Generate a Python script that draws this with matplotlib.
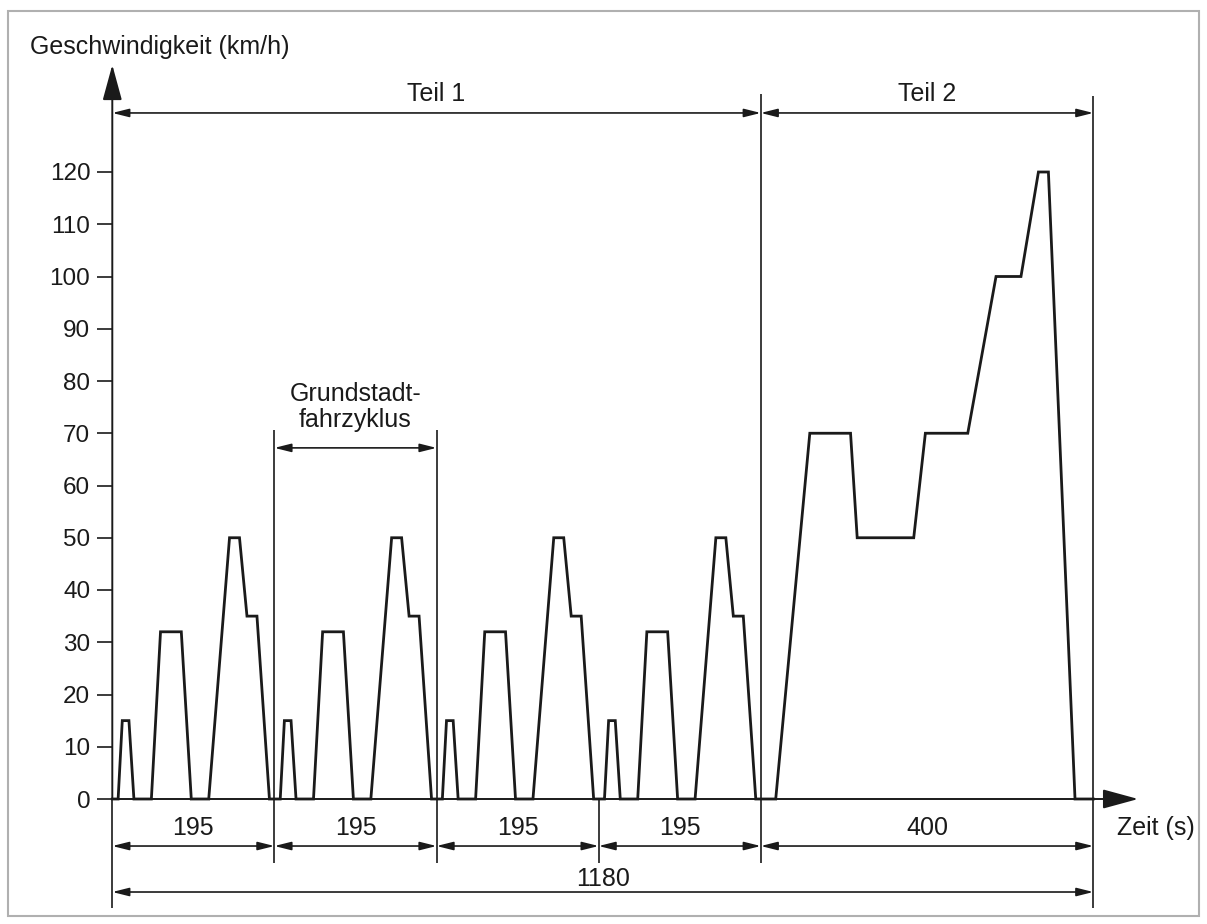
import numpy as np
import matplotlib.pyplot as plt
from matplotlib.patches import Rectangle

plt.rcParams['font.family'] = ['Liberation Sans', 'DejaVu Sans']

# Grundstadtfahrzyklus (195 s), Eckpunkte
zeit_ece = [0, 7, 12, 20, 26, 47, 58, 83, 95, 116, 141, 153, 162, 174, 189, 195]
v_ece = [0, 0, 15, 15, 0, 0, 32, 32, 0, 0, 50, 50, 35, 35, 0, 0]

# Teil 2 (400 s)
zeit_teil2 = [0, 18, 59, 108, 116, 184, 198, 249, 283, 313, 334, 346, 378, 400]
v_teil2 = [0, 0, 70, 70, 50, 50, 70, 70, 100, 100, 120, 120, 0, 0]

dauer_ece = 195
anzahl_ece = 4
dauer_teil2 = 400
dauer_gesamt = anzahl_ece * dauer_ece + dauer_teil2   # 1180

y_ticks = list(range(0, 121, 10))
abschnitt_texte = ['195', '195', '195', '195', '400']

FARBE = '#1a1a1a'
FS = 18


def zeitreihe():
    t, v = [], []
    for k in range(anzahl_ece):
        t += [z + k * dauer_ece for z in zeit_ece]
        v += v_ece
    start2 = anzahl_ece * dauer_ece
    t += [z + start2 for z in zeit_teil2]
    v += v_teil2
    return np.array(t), np.array(v)


def masspfeil(ax, x0, x1, y, stil='<|-|>'):
    ax.annotate('', xy=(x1, y), xytext=(x0, y), annotation_clip=False,
                arrowprops=dict(arrowstyle=stil + ',head_length=1.0,head_width=0.25',
                                mutation_scale=10, lw=1.2, color=FARBE,
                                shrinkA=0, shrinkB=0))


def vlinie(ax, x, y0, y1):
    ax.plot([x, x], [y0, y1], color=FARBE, lw=1.2, clip_on=False,
            solid_capstyle='butt')


fig = plt.figure(figsize=(12.07, 9.24), dpi=100)
W, H = 1207, 924
x0_px, x1_px = 112.3, 1093.3
y0_px, y120_px = 799, 172
ax = fig.add_axes([x0_px / W, 1 - y0_px / H, (x1_px - x0_px) / W, (y0_px - y120_px) / H])
ax.set_xlim(0, dauer_gesamt)
ax.set_ylim(0, 120)
for s in ax.spines.values():
    s.set_visible(False)
ax.set_xticks([])
ax.set_yticks(y_ticks)
ax.set_yticklabels([str(y) for y in y_ticks])
ax.tick_params(axis='y', direction='out', length=10.8, width=1.2, pad=5,
               labelsize=17.5, colors=FARBE)

# Geschwindigkeitsverlauf
t, v = zeitreihe()
ax.plot(t, v, color=FARBE, lw=2.0, clip_on=False, solid_joinstyle='miter')

# Achsen mit Pfeilspitzen
ax.annotate('', xy=(0, 140.5), xytext=(0, 0), annotation_clip=False,
            arrowprops=dict(arrowstyle='-|>,head_length=1.1,head_width=0.3',
                            mutation_scale=20, lw=1.4, color=FARBE,
                            shrinkA=0, shrinkB=0))
ax.annotate('', xy=(1234, 0), xytext=(0, 0), annotation_clip=False,
            arrowprops=dict(arrowstyle='-|>,head_length=1.1,head_width=0.3',
                            mutation_scale=20, lw=1.4, color=FARBE,
                            shrinkA=0, shrinkB=0))
ax.text(-99, 144, 'Geschwindigkeit (km/h)', fontsize=FS, color=FARBE,
        ha='left', va='center')
ax.text(1208, -5.6, 'Zeit (s)', fontsize=FS, color=FARBE, ha='left', va='center')

# Teil 1 / Teil 2 oben
teil_grenze = anzahl_ece * dauer_ece
vlinie(ax, teil_grenze, -12.3, 135)
vlinie(ax, dauer_gesamt, -20.9, 134.5)
masspfeil(ax, 0, teil_grenze, 131.3)
masspfeil(ax, teil_grenze, dauer_gesamt, 131.3)
ax.text(teil_grenze / 2, 134.9, 'Teil 1', fontsize=FS, color=FARBE, ha='center', va='center')
ax.text((teil_grenze + dauer_gesamt) / 2, 134.9, 'Teil 2', fontsize=FS, color=FARBE,
        ha='center', va='center')

# Grundstadtfahrzyklus
vlinie(ax, dauer_ece, -12.3, 70.6)
vlinie(ax, 2 * dauer_ece, -12.3, 70.6)
vlinie(ax, 3 * dauer_ece, -12.3, 0)
vlinie(ax, 0, -20.9, 0)
masspfeil(ax, dauer_ece, 2 * dauer_ece, 67.2)
ax.text(1.5 * dauer_ece, 75, 'Grundstadt-\nfahrzyklus', fontsize=FS, color=FARBE,
        ha='center', va='center', linespacing=1.1)

# Abschnittsmaße unten
grenzen = [k * dauer_ece for k in range(anzahl_ece + 1)] + [dauer_gesamt]
for i, txt in enumerate(abschnitt_texte):
    a, b = grenzen[i], grenzen[i + 1]
    masspfeil(ax, a, b, -9.0)
    ax.text((a + b) / 2, -5.6, txt, fontsize=FS, color=FARBE, ha='center', va='center')

masspfeil(ax, 0, dauer_gesamt, -17.8)
ax.text(dauer_gesamt / 2, -15.4, str(dauer_gesamt), fontsize=FS, color=FARBE,
        ha='center', va='center')

# grauer Rahmen
fig.patches.append(Rectangle((8 / W, 1 - 916 / H), (1199 - 8) / W, (916 - 11) / H,
                             transform=fig.transFigure, fill=False,
                             edgecolor='#b0b0b0', lw=1.5))

fig.savefig('out.png', dpi=100)
